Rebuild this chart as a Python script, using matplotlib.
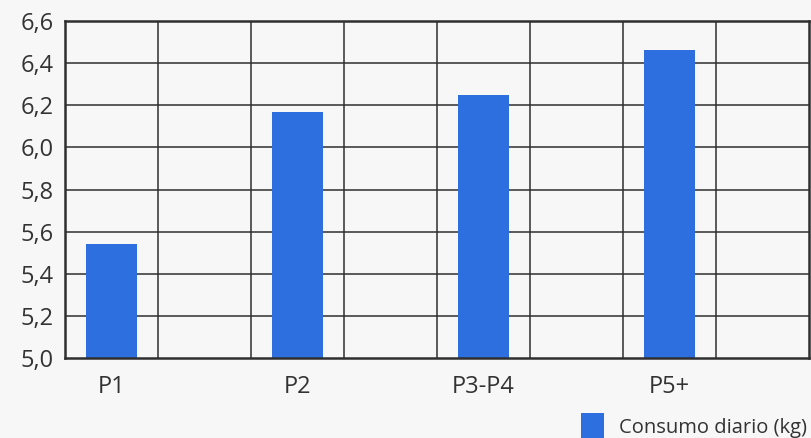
import matplotlib
matplotlib.use("Agg")
import matplotlib.pyplot as plt
from matplotlib.patches import Patch

categories = ["P1", "P2", "P3-P4", "P5+"]
consumo = [5.54, 6.17, 6.25, 6.46]
yticks = [5.0, 5.2, 5.4, 5.6, 5.8, 6.0, 6.2, 6.4, 6.6]
ytick_labels = ["5,0", "5,2", "5,4", "5,6", "5,8", "6,0", "6,2", "6,4", "6,6"]
series_name = "Consumo diario (kg)"

plt.rcParams['font.family'] = ['Open Sans', 'DejaVu Sans']
bg = "#f7f7f7"
blue = "#2e6fdf"
grid_c = "#2f2f2f"

fig = plt.figure(figsize=(8.12, 4.38), dpi=100, facecolor=bg)
ax = fig.add_axes([65/812, (438-358)/438, (809-65)/812, (358-21)/438])
ax.set_facecolor(bg)

xpos = [2*i for i in range(len(categories))]
ax.bar(xpos, consumo, width=0.54, color=blue, zorder=3, label=series_name)

ax.set_ylim(5.0, 6.6)
ax.set_xlim(-0.5, 7.5)
ax.set_yticks(yticks)
ax.set_yticklabels(ytick_labels, fontsize=17, color="#333333")
ax.set_xticks(xpos)
ax.set_xticklabels(categories, fontsize=17, color="#333333")
ax.tick_params(axis='both', length=0)
ax.tick_params(axis='y', pad=8)
ax.tick_params(axis='x', pad=12)

for yv in yticks[1:-1]:
    ax.axhline(yv, color=grid_c, lw=1.1, zorder=1)
for k in range(7):
    ax.axvline(k + 0.5, color=grid_c, lw=1.1, zorder=1)

for s in ax.spines.values():
    s.set_color(grid_c)
    s.set_linewidth(1.8)
    s.set_zorder(4)

handles = [Patch(facecolor=blue, edgecolor='none', label=series_name)]
fig.legend(handles=handles, loc='lower right', bbox_to_anchor=(1.004, -0.022),
           frameon=False, fontsize=14.5, handlelength=1.15, handleheight=1.65,
           handletextpad=0.75, borderaxespad=0.0, labelcolor="#333333")

fig.savefig("out.png", dpi=100, facecolor=bg)
